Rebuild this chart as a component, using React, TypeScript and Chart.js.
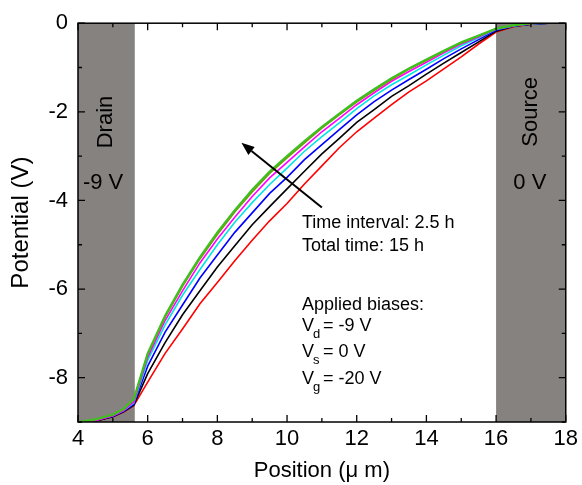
import React, { useEffect, useRef } from "react";
import { Chart, registerables } from "chart.js";

Chart.register(...registerables);

// ---- data ----
const positions = [4, 4.5, 5, 5.3, 5.6, 6, 6.5, 7, 7.5, 8, 8.5, 9, 9.5, 10, 10.5, 11, 11.5, 12, 12.5, 13, 13.5, 14, 14.5, 15, 15.5, 16, 16.5, 17, 17.5, 18];

const potential0h = [-9, -8.97, -8.88, -8.78, -8.63, -8.10, -7.45, -6.90, -6.33, -5.85, -5.36, -4.90, -4.46, -4.07, -3.63, -3.22, -2.81, -2.45, -2.14, -1.84, -1.55, -1.30, -1.03, -0.76, -0.47, -0.20, -0.08, -0.02, 0, 0];
const potential2p5h = [-9, -8.98, -8.88, -8.77, -8.62, -7.91, -7.21, -6.58, -6.04, -5.50, -5.02, -4.55, -4.14, -3.74, -3.34, -2.95, -2.60, -2.24, -1.95, -1.65, -1.41, -1.15, -0.90, -0.66, -0.42, -0.18, -0.07, -0.02, 0, 0];
const potential5h = [-9, -8.96, -8.87, -8.76, -8.60, -7.74, -6.97, -6.36, -5.75, -5.23, -4.72, -4.28, -3.84, -3.48, -3.08, -2.74, -2.40, -2.07, -1.77, -1.51, -1.27, -1.04, -0.80, -0.58, -0.37, -0.16, -0.06, -0.02, 0, 0];
const potential7p5h = [-9, -8.96, -8.86, -8.75, -8.57, -7.61, -6.81, -6.14, -5.56, -5.00, -4.49, -4.05, -3.64, -3.27, -2.89, -2.56, -2.25, -1.93, -1.64, -1.39, -1.17, -0.94, -0.72, -0.51, -0.33, -0.14, -0.06, -0.01, 0, 0];
const potential10h = [-9.02, -8.97, -8.86, -8.74, -8.55, -7.54, -6.71, -6.04, -5.41, -4.87, -4.38, -3.91, -3.49, -3.14, -2.79, -2.45, -2.15, -1.84, -1.57, -1.31, -1.09, -0.88, -0.67, -0.47, -0.31, -0.13, -0.05, -0.01, 0.01, 0];
const potential12p5h = [-9, -8.95, -8.84, -8.72, -8.50, -7.48, -6.64, -5.94, -5.32, -4.77, -4.26, -3.81, -3.39, -3.04, -2.70, -2.37, -2.07, -1.78, -1.52, -1.27, -1.04, -0.84, -0.64, -0.45, -0.29, -0.13, -0.05, -0.01, 0.01, 0.01];
const potential15h = [-9, -8.94, -8.83, -8.71, -8.48, -7.45, -6.60, -5.90, -5.28, -4.72, -4.22, -3.76, -3.35, -3.00, -2.66, -2.34, -2.04, -1.75, -1.49, -1.24, -1.02, -0.82, -0.62, -0.43, -0.28, -0.12, -0.04, 0, 0.01, 0.01];

const seriesLabels = ["0 h", "2.5 h", "5 h", "7.5 h", "10 h", "12.5 h", "15 h"];
const seriesColors = ["#ff0000", "#000000", "#0000ff", "#00e5e5", "#ff00ff", "#8a8a10", "#3cc21e"];

const xTickValues = [4, 6, 8, 10, 12, 14, 16, 18];
const yTickValues = [-8, -6, -4, -2, 0];
const drainRange = [4, 5.63];
const sourceRange = [16, 18];

// arrow (tail -> head) in data coordinates
const arrowTail = [11.0, -4.16];
const arrowHead = [8.69, -2.7];

const FONT = '"Liberation Sans", Arial, Helvetica, sans-serif';

export default function App() {
  const ref = useRef<HTMLCanvasElement>(null);

  useEffect(() => {
    const canvas = ref.current;
    if (!canvas) return;

    const allSeries = [potential0h, potential2p5h, potential5h, potential7p5h, potential10h, potential12p5h, potential15h];
    const datasets = allSeries
      .map((s, i) => ({
        label: seriesLabels[i],
        data: positions.map((p, j) => ({ x: p, y: s[j] })),
        borderColor: seriesColors[i],
        backgroundColor: seriesColors[i],
        borderWidth: i === 6 ? 2.2 : 1.6,
        pointRadius: 0,
        fill: false,
        tension: 0,
      }))
      .reverse(); // dataset 0 is drawn on top

    const overlay = {
      id: "overlay",
      beforeDatasetsDraw(chart: any) {
        const { ctx, chartArea: a, scales } = chart;
        const x = scales.x;
        const y = scales.y;
        ctx.save();
        ctx.fillStyle = "#86827f";
        for (const r of [drainRange, sourceRange]) {
          const x0 = x.getPixelForValue(r[0]);
          const x1 = x.getPixelForValue(r[1]);
          ctx.fillRect(x0, a.top, x1 - x0, a.bottom - a.top);
        }
        ctx.fillStyle = "#000";
        ctx.font = `22px ${FONT}`;
        ctx.textAlign = "center";
        ctx.textBaseline = "middle";
        const rot = (t: string, px: number, py: number) => {
          ctx.save();
          ctx.translate(x.getPixelForValue(px), y.getPixelForValue(py));
          ctx.rotate(-Math.PI / 2);
          ctx.fillText(t, 0, 0);
          ctx.restore();
        };
        rot("Drain", 4.8, -2.23);
        rot("Source", 17.0, -2.0);
        ctx.fillText("-9 V", x.getPixelForValue(4.72), y.getPixelForValue(-3.6));
        ctx.fillText("0 V", x.getPixelForValue(16.97), y.getPixelForValue(-3.6));
        ctx.restore();
      },
      afterDatasetsDraw(chart: any) {
        const { ctx, chartArea: a, scales } = chart;
        const x = scales.x;
        const y = scales.y;
        ctx.save();
        // frame
        ctx.strokeStyle = "#000";
        ctx.lineWidth = 1.5;
        ctx.strokeRect(a.left, a.top, a.right - a.left, a.bottom - a.top);
        // ticks (inward, all four sides)
        ctx.lineWidth = 1.3;
        ctx.beginPath();
        for (let v = 4; v <= 18; v += 1) {
          const px = x.getPixelForValue(v);
          const len = v % 2 === 0 ? 7 : 4;
          ctx.moveTo(px, a.bottom);
          ctx.lineTo(px, a.bottom - len);
          ctx.moveTo(px, a.top);
          ctx.lineTo(px, a.top + len);
        }
        for (let v = -9; v <= 0; v += 1) {
          const py = y.getPixelForValue(v);
          const len = v % 2 === 0 ? 7 : 4;
          ctx.moveTo(a.left, py);
          ctx.lineTo(a.left + len, py);
          ctx.moveTo(a.right, py);
          ctx.lineTo(a.right - len, py);
        }
        ctx.stroke();

        // arrow
        const tx = x.getPixelForValue(arrowTail[0]);
        const ty = y.getPixelForValue(arrowTail[1]);
        const hx = x.getPixelForValue(arrowHead[0]);
        const hy = y.getPixelForValue(arrowHead[1]);
        const ang = Math.atan2(hy - ty, hx - tx);
        const hl = 13;
        const hw = 5;
        const bx = hx - hl * Math.cos(ang);
        const by = hy - hl * Math.sin(ang);
        ctx.lineWidth = 2;
        ctx.beginPath();
        ctx.moveTo(tx, ty);
        ctx.lineTo(bx, by);
        ctx.stroke();
        ctx.fillStyle = "#000";
        ctx.beginPath();
        ctx.moveTo(hx, hy);
        ctx.lineTo(bx + hw * Math.sin(ang), by - hw * Math.cos(ang));
        ctx.lineTo(bx - hw * Math.sin(ang), by + hw * Math.cos(ang));
        ctx.closePath();
        ctx.fill();

        // annotation text
        ctx.font = `18px ${FONT}`;
        ctx.textAlign = "left";
        ctx.textBaseline = "middle";
        const lx = x.getPixelForValue(10.43);
        ctx.fillText("Time interval: 2.5 h", lx, y.getPixelForValue(-4.52));
        ctx.fillText("Total time: 15 h", lx, y.getPixelForValue(-5.04));
        ctx.fillText("Applied biases:", lx, y.getPixelForValue(-6.35));
        const subLine = (sub: string, rest: string, yv: number) => {
          const py = y.getPixelForValue(yv);
          ctx.font = `18px ${FONT}`;
          ctx.fillText("V", lx, py);
          const w = ctx.measureText("V").width;
          ctx.font = `13px ${FONT}`;
          ctx.fillText(sub, lx + w - 1, py + 8);
          ctx.font = `18px ${FONT}`;
          ctx.fillText(rest, lx + w + 9, py);
        };
        subLine("d", "= -9 V", -6.84);
        subLine("s", "= 0 V", -7.43);
        subLine("g", "= -20 V", -8.03);
        ctx.restore();
      },
    };

    const chart = new Chart(canvas, {
      type: "line",
      data: { datasets },
      options: {
        animation: false,
        responsive: false,
        maintainAspectRatio: false,
        parsing: true,
        layout: { padding: { top: 23, right: 15, left: 0, bottom: 0 } },
        plugins: { legend: { display: false }, tooltip: { enabled: false } },
        scales: {
          x: {
            type: "linear",
            min: 4,
            max: 18,
            afterBuildTicks: (s: any) => {
              s.ticks = xTickValues.map((v) => ({ value: v }));
            },
            afterFit: (s: any) => {
              s.height = 63;
            },
            ticks: {
              color: "#000",
              font: { size: 22, family: FONT },
              padding: 4,
              maxRotation: 0,
              autoSkip: false,
              callback: (v: any) => String(v),
            },
            grid: { display: false, drawTicks: false },
            border: { display: false },
            title: {
              display: true,
              text: "Position (\u03bc m)",
              color: "#000",
              font: { size: 22, family: FONT },
              padding: { top: 0, bottom: 1 },
            },
          },
          y: {
            type: "linear",
            min: -9,
            max: 0,
            afterBuildTicks: (s: any) => {
              s.ticks = yTickValues.map((v) => ({ value: v }));
            },
            afterFit: (s: any) => {
              s.width = 78;
            },
            ticks: {
              color: "#000",
              font: { size: 22, family: FONT },
              padding: 10,
              autoSkip: false,
              callback: (v: any) => String(v),
            },
            grid: { display: false, drawTicks: false },
            border: { display: false },
            title: {
              display: true,
              text: "Potential (V)",
              color: "#000",
              font: { size: 24, family: FONT },
              padding: { top: 7, bottom: 0 },
            },
          },
        },
      },
      plugins: [overlay],
    });

    return () => chart.destroy();
  }, []);

  return (
    <div style={{ position: "fixed", left: 0, top: 0, width: 582, height: 485, background: "#fff" }}>
      <canvas ref={ref} width={582} height={485} style={{ display: "block" }} />
    </div>
  );
}
